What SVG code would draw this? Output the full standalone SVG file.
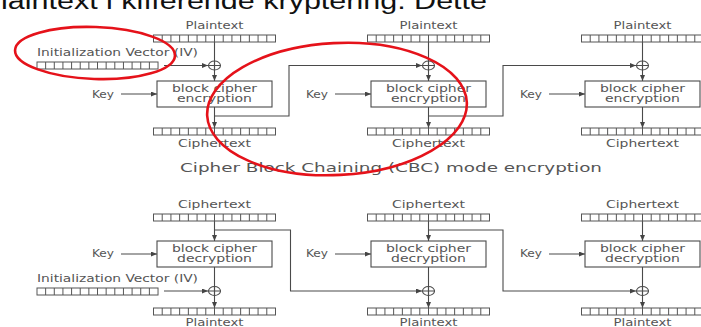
<svg xmlns="http://www.w3.org/2000/svg" xmlns:xlink="http://www.w3.org/1999/xlink" width="701" height="327" viewBox="0 0 701 327">
<style>
.t{font-family:"DejaVu Sans",Verdana,sans-serif;font-size:10px;fill:#555}
.c{text-anchor:middle}
.ttl{font-family:"DejaVu Sans",Verdana,sans-serif;font-size:12.5px;fill:#555}
.hd{font-family:"Liberation Sans",Arial,sans-serif;font-size:23px;fill:#111}
.ln{fill:none;stroke:#4a4a4a;stroke-width:1.1}
.ar{fill:none;stroke:#4a4a4a;stroke-width:1.1;marker-end:url(#ah)}
.bx{fill:#fff;stroke:#4a4a4a;stroke-width:1.1}
.rg{fill:none;stroke:#555;stroke-width:1}
.red{fill:none;stroke:#e5121a;stroke-width:2.6}
</style>
<defs>
<marker id="ah" markerUnits="userSpaceOnUse" markerWidth="7" markerHeight="6" refX="6" refY="2.5" orient="auto">
<path d="M0,0 L6,2.5 L0,5 z" fill="#444"/>
</marker>
<g id="reg"><rect class="rg" x="0" y="0" width="122" height="7"/><path class="rg" d="M8.71,0v7M17.43,0v7M26.14,0v7M34.86,0v7M43.57,0v7M52.29,0v7M61,0v7M69.71,0v7M78.43,0v7M87.14,0v7M95.86,0v7M104.57,0v7M113.29,0v7"/></g>
<g id="xor"><ellipse class="ln" cx="0" cy="0" rx="6" ry="4.5" fill="#fff"/><path class="ln" d="M-6,0H6M0,-4.5V4.5"/></g>
</defs>
<rect width="701" height="327" fill="#fff"/>
<text class="hd" x="1" y="8.5" textLength="486" lengthAdjust="spacingAndGlyphs">laintext i kifferende kryptering: Dette</text>

<g id="connectors">
<!-- encryption -->
<path class="ar" d="M214.5,42V81"/>
<path class="ar" d="M428.5,42V81"/>
<path class="ar" d="M642.5,42V81"/>
<path class="ar" d="M164,65.5H208"/>
<path class="ar" d="M121,94H157"/>
<path class="ar" d="M335,94H371"/>
<path class="ar" d="M549,94H585"/>
<path class="ar" d="M214.5,107V128"/>
<path class="ar" d="M428.5,107V128"/>
<path class="ar" d="M642.5,107V128"/>
<path class="ar" d="M214.5,116H289V65.5H422"/>
<path class="ar" d="M428.5,116H503V65.5H636"/>
<!-- decryption -->
<path class="ar" d="M214.5,221V241"/>
<path class="ar" d="M428.5,221V241"/>
<path class="ar" d="M642.5,221V241"/>
<path class="ar" d="M121,254H157"/>
<path class="ar" d="M335,254H371"/>
<path class="ar" d="M549,254H585"/>
<path class="ar" d="M214.5,267V308"/>
<path class="ar" d="M428.5,267V308"/>
<path class="ar" d="M642.5,267V308"/>
<path class="ar" d="M164,291H208"/>
<path class="ar" d="M214.5,230H290.5V291H422"/>
<path class="ar" d="M428.5,230H503V291H636"/>
</g>

<g id="iv-enc">
<text class="t" x="37" y="55.5" textLength="161" lengthAdjust="spacingAndGlyphs">Initialization Vector (IV)</text>
<use xlink:href="#reg" transform="translate(37,62) scale(0.992,1)"/>
</g>

<g id="enc1">
<text class="t c" x="214.5" y="28.5" textLength="58" lengthAdjust="spacingAndGlyphs">Plaintext</text>
<use xlink:href="#reg" x="153.5" y="35"/>
<use xlink:href="#xor" x="214.5" y="65.5"/>
<text class="t c" x="103" y="97.5" textLength="22" lengthAdjust="spacingAndGlyphs">Key</text>
<rect class="bx" x="157" y="81" width="115" height="26"/>
<text class="t c" x="214.5" y="91.5" textLength="85" lengthAdjust="spacingAndGlyphs">block cipher</text>
<text class="t c" x="214.5" y="102" textLength="75" lengthAdjust="spacingAndGlyphs">encryption</text>
<use xlink:href="#reg" x="153.5" y="128"/>
<text class="t c" x="214.5" y="146.5" textLength="73" lengthAdjust="spacingAndGlyphs">Ciphertext</text>
</g>

<g id="enc2">
<text class="t c" x="428.5" y="28.5" textLength="58" lengthAdjust="spacingAndGlyphs">Plaintext</text>
<use xlink:href="#reg" x="367.5" y="35"/>
<use xlink:href="#xor" x="428.5" y="65.5"/>
<text class="t c" x="317" y="97.5" textLength="22" lengthAdjust="spacingAndGlyphs">Key</text>
<rect class="bx" x="371" y="81" width="115" height="26"/>
<text class="t c" x="428.5" y="91.5" textLength="85" lengthAdjust="spacingAndGlyphs">block cipher</text>
<text class="t c" x="428.5" y="102" textLength="75" lengthAdjust="spacingAndGlyphs">encryption</text>
<use xlink:href="#reg" x="367.5" y="128"/>
<text class="t c" x="428.5" y="146.5" textLength="73" lengthAdjust="spacingAndGlyphs">Ciphertext</text>
</g>

<g id="enc3">
<text class="t c" x="642.5" y="28.5" textLength="58" lengthAdjust="spacingAndGlyphs">Plaintext</text>
<use xlink:href="#reg" x="581.5" y="35"/>
<use xlink:href="#xor" x="642.5" y="65.5"/>
<text class="t c" x="531" y="97.5" textLength="22" lengthAdjust="spacingAndGlyphs">Key</text>
<rect class="bx" x="585" y="81" width="115" height="26"/>
<text class="t c" x="642.5" y="91.5" textLength="85" lengthAdjust="spacingAndGlyphs">block cipher</text>
<text class="t c" x="642.5" y="102" textLength="75" lengthAdjust="spacingAndGlyphs">encryption</text>
<use xlink:href="#reg" x="581.5" y="128"/>
<text class="t c" x="642.5" y="146.5" textLength="73" lengthAdjust="spacingAndGlyphs">Ciphertext</text>
</g>

<text class="ttl" x="180" y="171.5" textLength="422" lengthAdjust="spacingAndGlyphs">Cipher Block Chaining (CBC) mode encryption</text>

<g id="iv-dec">
<text class="t" x="37" y="281.5" textLength="161" lengthAdjust="spacingAndGlyphs">Initialization Vector (IV)</text>
<use xlink:href="#reg" transform="translate(37,288) scale(0.992,1)"/>
</g>

<g id="dec1">
<text class="t c" x="214.5" y="208" textLength="73" lengthAdjust="spacingAndGlyphs">Ciphertext</text>
<use xlink:href="#reg" x="153.5" y="214"/>
<text class="t c" x="103" y="257.3" textLength="22" lengthAdjust="spacingAndGlyphs">Key</text>
<rect class="bx" x="157" y="241" width="115" height="26"/>
<text class="t c" x="214.5" y="251.7" textLength="85" lengthAdjust="spacingAndGlyphs">block cipher</text>
<text class="t c" x="214.5" y="261.7" textLength="75" lengthAdjust="spacingAndGlyphs">decryption</text>
<use xlink:href="#xor" x="214.5" y="291"/>
<use xlink:href="#reg" x="153.5" y="308"/>
<text class="t c" x="214.5" y="325.5" textLength="58" lengthAdjust="spacingAndGlyphs">Plaintext</text>
</g>

<g id="dec2">
<text class="t c" x="428.5" y="208" textLength="73" lengthAdjust="spacingAndGlyphs">Ciphertext</text>
<use xlink:href="#reg" x="367.5" y="214"/>
<text class="t c" x="317" y="257.3" textLength="22" lengthAdjust="spacingAndGlyphs">Key</text>
<rect class="bx" x="371" y="241" width="115" height="26"/>
<text class="t c" x="428.5" y="251.7" textLength="85" lengthAdjust="spacingAndGlyphs">block cipher</text>
<text class="t c" x="428.5" y="261.7" textLength="75" lengthAdjust="spacingAndGlyphs">decryption</text>
<use xlink:href="#xor" x="428.5" y="291"/>
<use xlink:href="#reg" x="367.5" y="308"/>
<text class="t c" x="428.5" y="325.5" textLength="58" lengthAdjust="spacingAndGlyphs">Plaintext</text>
</g>

<g id="dec3">
<text class="t c" x="642.5" y="208" textLength="73" lengthAdjust="spacingAndGlyphs">Ciphertext</text>
<use xlink:href="#reg" x="581.5" y="214"/>
<text class="t c" x="531" y="257.3" textLength="22" lengthAdjust="spacingAndGlyphs">Key</text>
<rect class="bx" x="585" y="241" width="115" height="26"/>
<text class="t c" x="642.5" y="251.7" textLength="85" lengthAdjust="spacingAndGlyphs">block cipher</text>
<text class="t c" x="642.5" y="261.7" textLength="75" lengthAdjust="spacingAndGlyphs">decryption</text>
<use xlink:href="#xor" x="642.5" y="291"/>
<use xlink:href="#reg" x="581.5" y="308"/>
<text class="t c" x="642.5" y="325.5" textLength="58" lengthAdjust="spacingAndGlyphs">Plaintext</text>
</g>

<g id="highlights">
<ellipse class="red" cx="95" cy="53" rx="80" ry="26" transform="rotate(2 95 53)"/>
<ellipse class="red" cx="337" cy="109" rx="130" ry="66" transform="rotate(-3 337 109)"/>
</g>
</svg>
